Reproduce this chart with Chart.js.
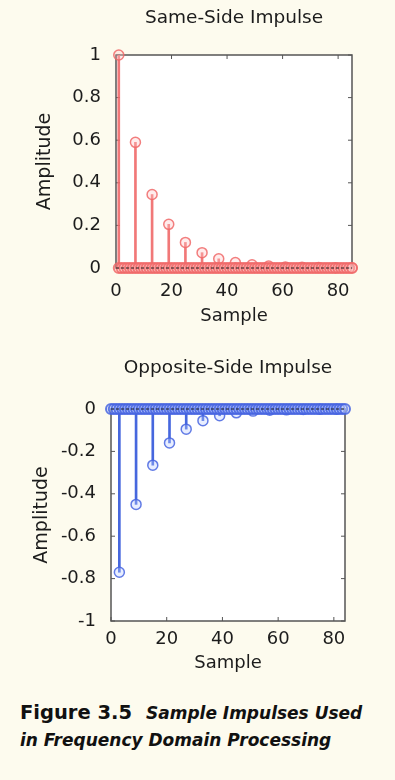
<!DOCTYPE html>
<html>
<head>
<meta charset="utf-8">
<script src="https://cdn.jsdelivr.net/npm/chart.js@4"></script>
<style>
  html, body { margin: 0; padding: 0; background: #fdfbee; }
  body { width: 395px; height: 780px; position: relative; overflow: hidden; font-family: "DejaVu Sans", sans-serif; }
  .box { position: absolute; left: 0; width: 395px; }
  #top { top: 0; height: 335px; }
  #bottom { top: 335px; height: 345px; }
  .caption { position: absolute; left: 20px; top: 699px; font-size: 17px; line-height: 27px; color: #111; font-weight: 700; font-style: italic; white-space: nowrap; }
  .caption b { font-style: normal; font-weight: 700; font-size: 19.5px; margin-right: 8px; }
</style>
</head>
<body>
<div class="box" id="top"><canvas id="c1"></canvas></div>
<div class="box" id="bottom"><canvas id="c2"></canvas></div>
<div class="caption"><b>Figure 3.5</b> Sample Impulses Used<br>in Frequency Domain Processing</div>
<script>
// valeurs
const xTicks = [0, 20, 40, 60, 80]
const sameTicks = [0, 0.2, 0.4, 0.6, 0.8, 1]
const oppTicks = [-1, -0.8, -0.6, -0.4, -0.2, 0]

const sameSamples = [1, 7, 13, 19, 25, 31, 37, 43, 49, 55, 61, 67, 73, 79, 85]
const sameValues  = [1, 0.59, 0.345, 0.205, 0.12, 0.072, 0.043, 0.026, 0.015, 0.009, 0.005, 0.003, 0.002, 0.001, 0.001]

const oppSamples = [3, 9, 15, 21, 27, 33, 39, 45, 51, 57, 63, 69, 75, 81]
const oppValues  = [-0.77, -0.45, -0.265, -0.16, -0.095, -0.055, -0.032, -0.018, -0.01, -0.006, -0.004, -0.002, -0.001, -0.001]

// les échantillons nuls (rangée de cercles sur la ligne 0)
const sameZeroSamples = [1,2,3,4,5,6,7,8,9,10,11,12,13,14,15,16,17,18,19,20,21,22,23,24,25,26,27,28,29,30,31,32,33,34,35,36,37,38,39,40,41,42,43,44,45,46,47,48,49,50,51,52,53,54,55,56,57,58,59,60,61,62,63,64,65,66,67,68,69,70,71,72,73,74,75,76,77,78,79,80,81,82,83,84,85]
const oppZeroSamples = [0,1,2,3,4,5,6,7,8,9,10,11,12,13,14,15,16,17,18,19,20,21,22,23,24,25,26,27,28,29,30,31,32,33,34,35,36,37,38,39,40,41,42,43,44,45,46,47,48,49,50,51,52,53,54,55,56,57,58,59,60,61,62,63,64,65,66,67,68,69,70,71,72,73,74,75,76,77,78,79,80,81,82,83,84]

const FONT = "DejaVu Sans"
const INK = "#1c1c1c"

// fond blanc, cadre, petites graduations vers l'intérieur et titre centré sur le graphe
const matlabBox = {
  id: "matlabBox",
  beforeDatasetsDraw(chart) {
    const { ctx, chartArea: a } = chart
    ctx.save()
    ctx.fillStyle = "#ffffff"
    ctx.fillRect(a.left, a.top, a.width, a.height)
    ctx.strokeStyle = "#555"
    ctx.lineWidth = 1.5
    ctx.strokeRect(a.left, a.top, a.width, a.height)
    ctx.lineWidth = 1
    const xs = chart.scales.x, ys = chart.scales.y
    xs.ticks.forEach(t => {
      const px = xs.getPixelForValue(t.value)
      ctx.beginPath()
      ctx.moveTo(px, a.bottom); ctx.lineTo(px, a.bottom - 4)
      ctx.moveTo(px, a.top); ctx.lineTo(px, a.top + 4)
      ctx.stroke()
    })
    ys.ticks.forEach(t => {
      const py = ys.getPixelForValue(t.value)
      ctx.beginPath()
      ctx.moveTo(a.left, py); ctx.lineTo(a.left + 4, py)
      ctx.moveTo(a.right, py); ctx.lineTo(a.right - 4, py)
      ctx.stroke()
    })
    ctx.restore()
  },
  afterDraw(chart, args, opts) {
    const { ctx, chartArea: a } = chart
    ctx.save()
    ctx.fillStyle = INK
    ctx.font = "18.5px " + FONT
    ctx.textAlign = "center"
    ctx.textBaseline = "middle"
    ctx.fillText(opts.text, (a.left + a.right) / 2, opts.y)
    ctx.restore()
  }
}

function buildChart(canvas, cfg) {
  const stems = cfg.samples.map((s, i) => ({ x: s, y: cfg.values[i] }))
  const zeros = cfg.zeroSamples.map(s => ({ x: s, y: 0 }))
  return new Chart(canvas, {
    type: "bar",
    data: {
      datasets: [
        {
          // ligne de base pointillée
          type: "line",
          data: [{ x: cfg.xMin, y: 0 }, { x: cfg.xMax, y: 0 }],
          borderColor: "#222",
          borderWidth: 1,
          borderDash: [3, 2],
          pointRadius: 0,
          clip: false,
          order: 1,
        },
        {
          type: "scatter",
          data: zeros,
          pointStyle: "circle",
          pointRadius: 5,
          borderWidth: 2,
          borderColor: cfg.mark,
          backgroundColor: cfg.fill,
          clip: false,
          order: 2,
        },
        {
          type: "scatter",
          data: stems,
          pointStyle: "circle",
          pointRadius: 5,
          borderWidth: 1.5,
          borderColor: cfg.mark,
          backgroundColor: cfg.fill,
          clip: false,
          order: 3,
        },
        {
          // tiges
          type: "bar",
          data: stems,
          backgroundColor: cfg.stem,
          barThickness: 2,
          grouped: false,
          order: 4,
        },
      ],
    },
    options: {
      responsive: true,
      maintainAspectRatio: false,
      animation: false,
      layout: { padding: { top: cfg.top, right: cfg.right, left: 0, bottom: 0 } },
      plugins: {
        legend: { display: false },
        tooltip: { enabled: false },
        matlabBox: { text: cfg.title, y: cfg.titleY },
      },
      scales: {
        x: {
          type: "linear",
          min: cfg.xMin,
          max: cfg.xMax,
          offset: false,
          grid: { display: false },
          border: { display: false },
          afterBuildTicks: s => { s.ticks = xTicks.map(v => ({ value: v })) },
          afterFit: s => { s.height = cfg.xHeight },
          ticks: { padding: cfg.xPad, color: INK, font: { family: FONT, size: 18 }, maxRotation: 0, callback: v => String(v) },
          title: { display: true, text: "Sample", color: INK, font: { family: FONT, size: 18 }, padding: { top: 0, bottom: cfg.sampleGap } },
        },
        y: {
          min: cfg.yMin,
          max: cfg.yMax,
          grid: { display: false },
          border: { display: false },
          afterBuildTicks: s => { s.ticks = cfg.yTicks.map(v => ({ value: v })) },
          afterFit: s => { s.width = cfg.yWidth },
          ticks: { padding: 7, color: INK, font: { family: FONT, size: 18 }, callback: v => String(v) },
          title: { display: true, text: "Amplitude", color: INK, font: { family: FONT, size: 19 }, padding: { top: cfg.ampGap, bottom: 0 } },
        },
      },
    },
    plugins: [matlabBox],
  })
}

buildChart(document.getElementById("c1"), {
  title: "Same-Side Impulse", titleY: 18,
  samples: sameSamples, values: sameValues, zeroSamples: sameZeroSamples,
  xMin: 0, xMax: 85, yMin: 0, yMax: 1, yTicks: sameTicks,
  top: 55, right: 43, xHeight: 67, yWidth: 116, xPad: 5, sampleGap: 8, ampGap: 34,
  mark: "rgba(240,105,105,0.85)", fill: "rgba(255,200,200,0.35)", stem: "rgba(240,105,105,0.9)",
})

buildChart(document.getElementById("c2"), {
  title: "Opposite-Side Impulse", titleY: 33,
  samples: oppSamples, values: oppValues, zeroSamples: oppZeroSamples,
  xMin: 0, xMax: 84, yMin: -1, yMax: 0, yTicks: oppTicks,
  top: 74, right: 50, xHeight: 59, yWidth: 111, xPad: 0, sampleGap: 6, ampGap: 31,
  mark: "rgba(70,100,225,0.85)", fill: "rgba(190,205,255,0.35)", stem: "rgba(60,95,220,0.95)",
})
</script>
</body>
</html>
